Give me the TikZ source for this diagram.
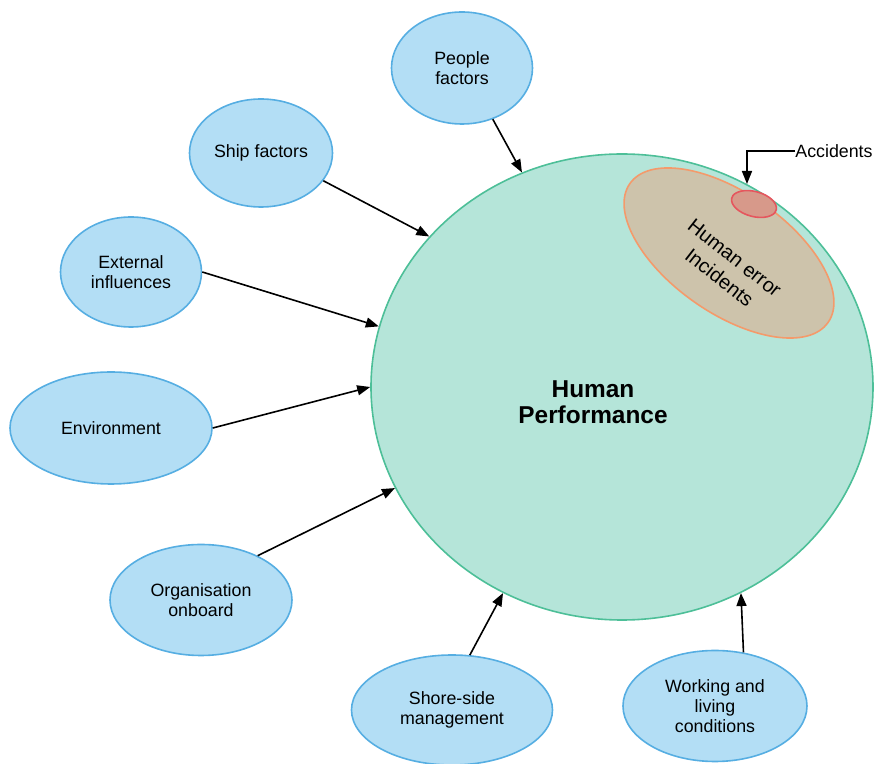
\documentclass[tikz,border=0pt]{standalone}
\usepackage{fontspec}
\setmainfont{Liberation Sans}
\usetikzlibrary{shapes.geometric,arrows.meta}

\definecolor{bubblefill}{HTML}{B3DEF5}
\definecolor{bubbledraw}{HTML}{56AEE2}
\definecolor{perffill}{HTML}{B5E5D9}
\definecolor{perfdraw}{HTML}{4DBF98}
\definecolor{errfill}{HTML}{CDC3AB}
\definecolor{errdraw}{HTML}{F49A6B}
\definecolor{accfill}{HTML}{D7998A}
\definecolor{accdraw}{HTML}{E5565E}

\begin{document}
\begin{tikzpicture}[x=0.5pt,y=-0.5pt,>={Triangle[length=6.5pt,width=5pt]}]

	\tikzset{bubble/.style={
				ellipse,draw=bubbledraw,fill=bubblefill,line width=0.8pt,
				inner sep=0pt,align=center,
				font=\fontsize{8.9}{10}\selectfont
			},
		feed/.style={->,line width=0.8pt,black}
	}

	\useasboundingbox (0,0) rectangle (875,764);

	% the big one
	\node[ellipse,draw=perfdraw,fill=perffill,line width=0.8pt,inner sep=0pt,
		minimum width=502*0.5pt,minimum height=466*0.5pt] (hp) at (622,387) {};
	\node[align=center,font=\fontsize{12.2}{13}\selectfont\bfseries] (hplabel) at (593,402) {Human\\Performance};

	% error / accidents
	\node[ellipse,draw=errdraw,fill=errfill,line width=0.8pt,inner sep=0pt,rotate=-35,
		minimum width=242*0.5pt,minimum height=120*0.5pt] (err) at (729,253) {};
	\node[ellipse,draw=accdraw,fill=accfill,line width=0.8pt,inner sep=0pt,rotate=-15,
		minimum width=46*0.5pt,minimum height=25*0.5pt] (accid) at (754,204) {};
	\node[align=center,rotate=-38,font=\fontsize{10}{12.5}\selectfont] (errlabel) at (727,268) {Human error\\Incidents};

	\node[anchor=west,inner sep=0pt,font=\fontsize{8.9}{10}\selectfont] (acc) at (795,151) {Accidents};
	\coordinate (acctip) at (747,184);
	\draw[feed] (acc.west) -| (acctip);

	% factors
	\node[bubble,minimum width=141*0.5pt,minimum height=112*0.5pt] (people) at (462,68) {People\\factors};
	\node[bubble,minimum width=143*0.5pt,minimum height=108*0.5pt] (ship) at (261,153) {Ship factors};
	\node[bubble,minimum width=141*0.5pt,minimum height=110*0.5pt] (extern) at (131,272) {External\\influences};
	\node[bubble,minimum width=202*0.5pt,minimum height=112*0.5pt] (environ) at (111,428) {Environment};
	\node[bubble,minimum width=182*0.5pt,minimum height=111*0.5pt] (onboard) at (201,600) {Organisation\\onboard};
	\node[bubble,minimum width=201*0.5pt,minimum height=110*0.5pt] (shore) at (452,710) {Shore-side\\management};
	\node[bubble,minimum width=184*0.5pt,minimum height=111*0.5pt] (working) at (715,706) {Working and\\living\\conditions};

	\foreach \src/\a/\b in {people/-59/115, ship/-24/142, extern/0/166, environ/0/180,
			onboard/38/204, shore/72/240, working/62/300} {
			\draw[feed] (\src.\a) -- (hp.\b);
		}

\end{tikzpicture}
\end{document}
